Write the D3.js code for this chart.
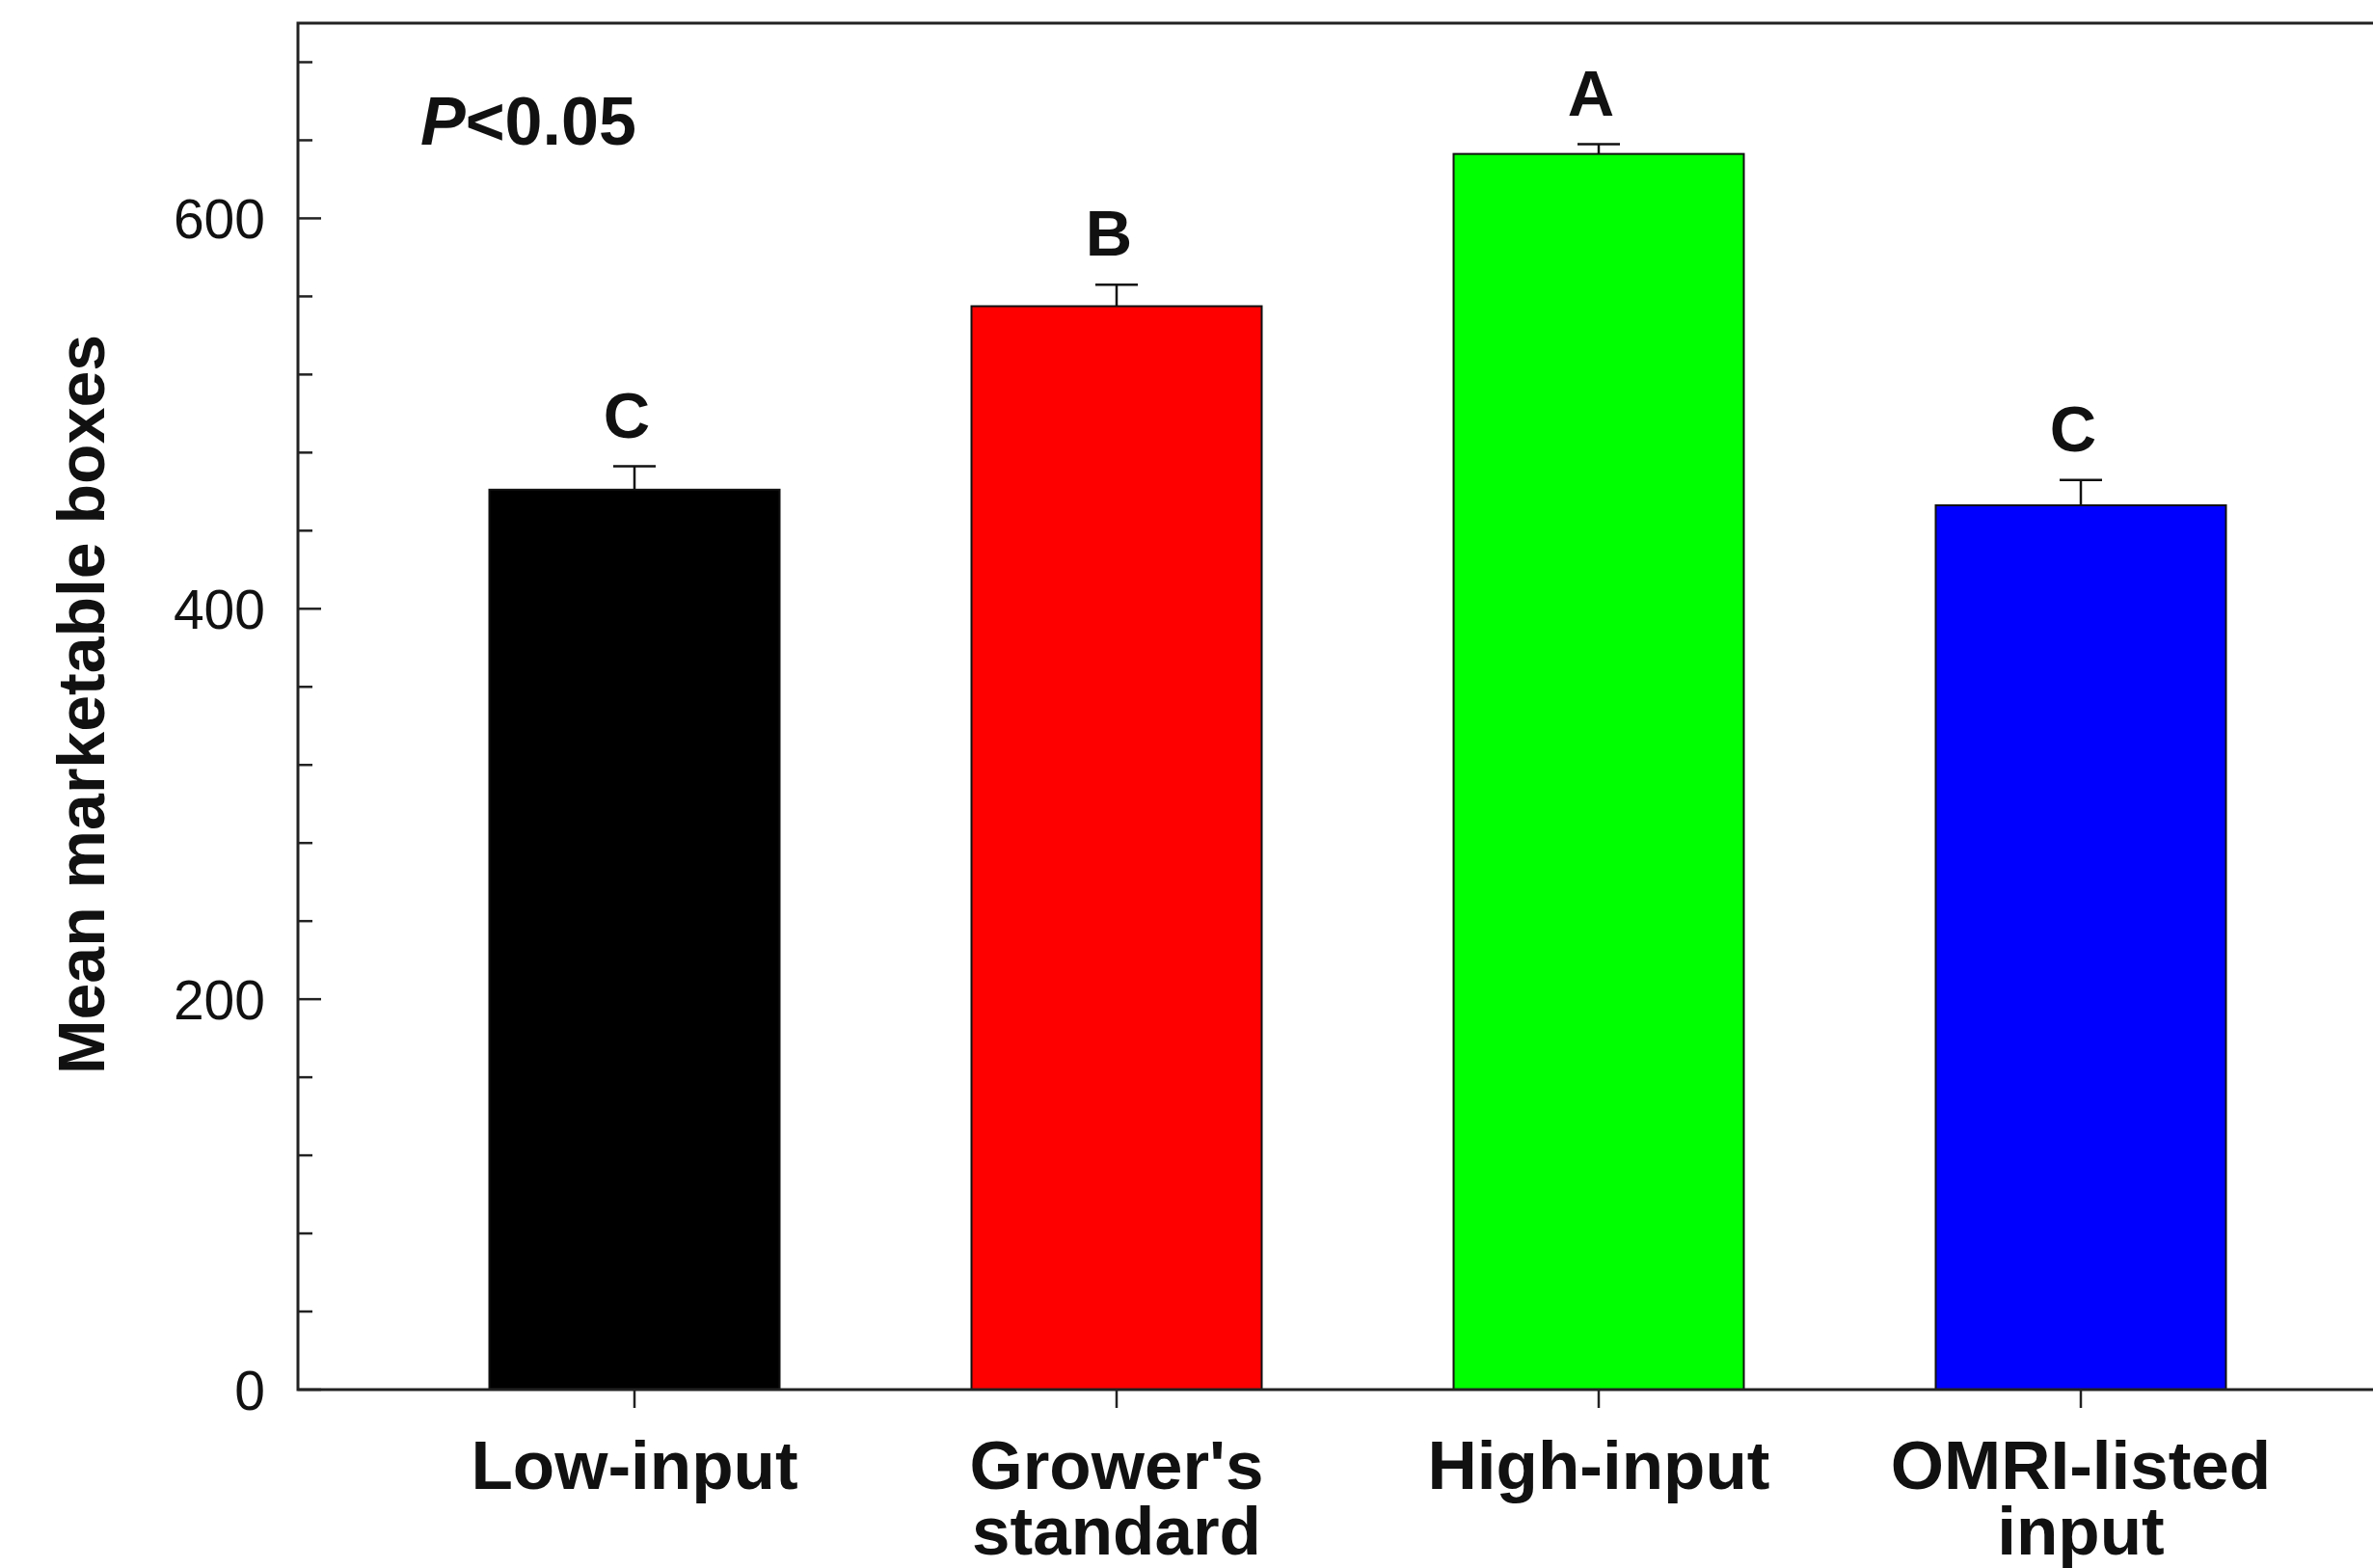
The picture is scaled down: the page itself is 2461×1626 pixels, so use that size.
<!DOCTYPE html>
<html>
	<head>
		<meta charset="utf-8">
		<script src="https://cdnjs.cloudflare.com/ajax/libs/d3/7.8.5/d3.min.js"></script>
		<style>
			body { margin: 0; background: white; }
			text { font-family: "Liberation Sans", Arial, sans-serif; }
		</style>
	</head>

	<body>
		<div id="chart-area"></div>

		<script>
			var categories = ["Low-input", "Grower's\nstandard", "High-input", "OMRI-listed\ninput"];
			var means = [461, 555, 633, 453];
			var errors = [12, 11, 5, 13];
			var letters = ["C", "B", "A", "C"];
			var barColors = ["#000000", "#ff0000", "#00ff00", "#0000ff"];
			var majorTicks = [0, 200, 400, 600];
			var minorTicks = d3.range(0, 701, 40).filter(function(d) { return d % 200 != 0; });

			var width = 2461;
			var height = 1626;
			var margin = { top: 24, right: -46, bottom: 185, left: 309 };

			var svg = d3.select("#chart-area")
						.append("svg")
						.attr("width", width)
						.attr("height", height);

			var y = d3.scaleLinear()
						.domain([0, 700])
						.range([height - margin.bottom, margin.top]);

			var x = d3.scaleBand()
						.domain(categories)
						.range([margin.left, width - margin.right])
						.paddingInner(0.398)
						.paddingOuter(0.397);

			var g = svg.append("g");

			// bars
			g.selectAll("rect.bar")
				.data(means)
				.enter()
				.append("rect")
				.attr("class", "bar")
				.attr("x", function(d, i) { return x(categories[i]); })
				.attr("y", function(d) { return y(d); })
				.attr("width", x.bandwidth())
				.attr("height", function(d) { return y(0) - y(d); })
				.attr("fill", function(d, i) { return barColors[i]; })
				.attr("stroke", "#111")
				.attr("stroke-width", 2);

			// error bars (upper half only)
			var capWidth = 44;
			var errGroup = g.selectAll("g.err")
							.data(means)
							.enter()
							.append("g")
							.attr("class", "err")
							.attr("stroke", "#111")
							.attr("stroke-width", 2.5);

			errGroup.append("line")
				.attr("x1", function(d, i) { return x(categories[i]) + x.bandwidth() / 2; })
				.attr("x2", function(d, i) { return x(categories[i]) + x.bandwidth() / 2; })
				.attr("y1", function(d) { return y(d); })
				.attr("y2", function(d, i) { return y(d + errors[i]); });

			errGroup.append("line")
				.attr("x1", function(d, i) { return x(categories[i]) + x.bandwidth() / 2 - capWidth / 2; })
				.attr("x2", function(d, i) { return x(categories[i]) + x.bandwidth() / 2 + capWidth / 2; })
				.attr("y1", function(d, i) { return y(d + errors[i]); })
				.attr("y2", function(d, i) { return y(d + errors[i]); });

			// significance letters
			g.selectAll("text.letter")
				.data(letters)
				.enter()
				.append("text")
				.attr("class", "letter")
				.attr("x", function(d, i) { return x(categories[i]) + x.bandwidth() / 2 - 8; })
				.attr("y", function(d, i) { return y(means[i] + errors[i]) - 30; })
				.attr("text-anchor", "middle")
				.attr("font-size", "67px")
				.attr("font-weight", "bold")
				.attr("fill", "#111")
				.text(function(d) { return d; });

			// frame
			var frame = g.append("g")
						.attr("stroke", "#222")
						.attr("stroke-width", 3)
						.attr("fill", "none");
			frame.append("rect")
				.attr("x", margin.left)
				.attr("y", margin.top)
				.attr("width", width - margin.right - margin.left)
				.attr("height", y(0) - margin.top);

			// y axis ticks (inside)
			g.selectAll("line.major")
				.data(majorTicks)
				.enter()
				.append("line")
				.attr("x1", margin.left)
				.attr("x2", margin.left + 24)
				.attr("y1", function(d) { return y(d); })
				.attr("y2", function(d) { return y(d); })
				.attr("stroke", "#222")
				.attr("stroke-width", 2.5);

			g.selectAll("line.minor")
				.data(minorTicks)
				.enter()
				.append("line")
				.attr("x1", margin.left)
				.attr("x2", margin.left + 15)
				.attr("y1", function(d) { return y(d); })
				.attr("y2", function(d) { return y(d); })
				.attr("stroke", "#222")
				.attr("stroke-width", 2.5);

			g.selectAll("text.ytick")
				.data(majorTicks)
				.enter()
				.append("text")
				.attr("class", "ytick")
				.attr("x", margin.left - 34)
				.attr("y", function(d) { return y(d); })
				.attr("dy", "0.36em")
				.attr("text-anchor", "end")
				.attr("font-size", "57px")
				.attr("fill", "#111")
				.text(function(d) { return d; });

			// x axis ticks (outside)
			g.selectAll("line.xtick")
				.data(categories)
				.enter()
				.append("line")
				.attr("x1", function(d) { return x(d) + x.bandwidth() / 2; })
				.attr("x2", function(d) { return x(d) + x.bandwidth() / 2; })
				.attr("y1", y(0))
				.attr("y2", y(0) + 19)
				.attr("stroke", "#222")
				.attr("stroke-width", 2.5);

			g.selectAll("text.xlabel")
				.data(categories)
				.enter()
				.append("text")
				.attr("class", "xlabel")
				.attr("text-anchor", "middle")
				.attr("font-size", "71px")
				.attr("font-weight", "bold")
				.attr("fill", "#111")
				.selectAll("tspan")
				.data(function(d) {
					var c = x(d) + x.bandwidth() / 2;
					return d.split("\n").map(function(s, k) { return { s: s, c: c, k: k }; });
				})
				.enter()
				.append("tspan")
				.attr("x", function(d) { return d.c; })
				.attr("y", function(d) { return y(0) + 103 + d.k * 68; })
				.text(function(d) { return d.s; });

			// y axis title
			svg.append("text")
				.attr("transform", "translate(108," + ((margin.top + y(0)) / 2 - 2) + ") rotate(-90)")
				.attr("text-anchor", "middle")
				.attr("font-size", "68px")
				.attr("font-weight", "bold")
				.attr("fill", "#111")
				.text("Mean marketable boxes");

			// p value note
			var note = svg.append("text")
						.attr("x", 436)
						.attr("y", 150)
						.attr("font-size", "70px")
						.attr("font-weight", "bold")
						.attr("fill", "#111");
			note.append("tspan")
				.attr("font-style", "italic")
				.text("P");
			note.append("tspan")
				.text("<0.05");
		</script>
	</body>
</html>
